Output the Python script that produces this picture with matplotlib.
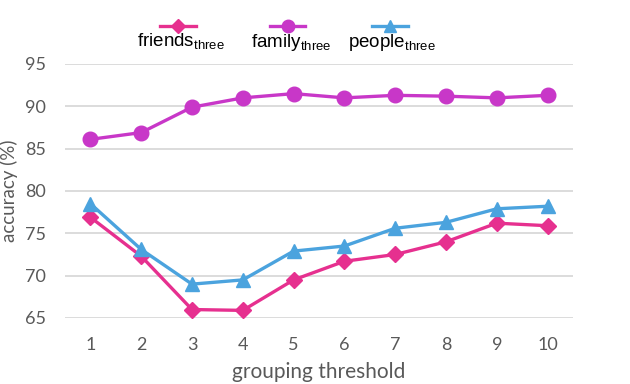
import matplotlib
matplotlib.use('Agg')
import matplotlib.pyplot as plt
from matplotlib.lines import Line2D
import numpy as np

# data
thresholds = [1, 2, 3, 4, 5, 6, 7, 8, 9, 10]
friends = [76.9, 72.3, 66.0, 65.9, 69.5, 71.7, 72.5, 74.0, 76.2, 75.9]
family = [86.1, 86.9, 89.9, 91.0, 91.5, 91.0, 91.3, 91.2, 91.0, 91.3]
people = [78.5, 73.1, 69.0, 69.5, 72.9, 73.5, 75.6, 76.3, 77.9, 78.2]
yticks = [65, 70, 75, 80, 85, 90, 95]

c_friends = '#E6308F'
c_family = '#C837C8'
c_people = '#4BA3DE'

plt.rcParams['font.family'] = ['Lato', 'DejaVu Sans']
plt.rcParams['mathtext.fontset'] = 'custom'
plt.rcParams['mathtext.rm'] = 'Liberation Sans'

fig = plt.figure(figsize=(6.3, 3.84), dpi=100)
ax = fig.add_axes([65/630, 1-318/384, 508/630, 254/384])

x = np.arange(len(thresholds))
ax.plot(x, friends, color=c_friends, lw=2.4, marker='D', ms=8, clip_on=False, zorder=3)
ax.plot(x, family, color=c_family, lw=2.4, marker='o', ms=10.5, clip_on=False, zorder=3)
ax.plot(x, people, color=c_people, lw=2.4, marker='^', ms=10, clip_on=False, zorder=3)

ax.set_xlim(-0.5, len(thresholds)-0.5)
ax.set_ylim(65, 95)
ax.set_yticks(yticks)
ax.set_xticks(x)
ax.set_xticklabels([str(t) for t in thresholds])
ax.grid(axis='y', color='#D9D9D9', lw=1.3)
ax.set_axisbelow(True)
for s in ax.spines.values():
    s.set_visible(False)
ax.tick_params(length=0, labelsize=13, labelcolor='#595959')
ax.tick_params(axis='y', pad=14)
ax.tick_params(axis='x', pad=14)
ax.set_ylabel('accuracy (%)', fontsize=13.5, color='#595959', labelpad=5)
ax.set_xlabel('grouping threshold', fontsize=15, color='#595959', labelpad=6)

# legend: marker line above the label
W, H = 630, 384
legend = [('friends', c_friends, 'D', 7, 160, 196, 137),
          ('family', c_family, 'o', 9, 270, 305, 251),
          ('people', c_people, '^', 8, 372, 408, 348)]
for name, col, mk, ms, x0, x1, tx in legend:
    fig.add_artist(Line2D([x0/W, x1/W], [1-26/H, 1-26/H], color=col, lw=2.4,
                          transform=fig.transFigure))
    fig.add_artist(Line2D([(x0+x1)/2/W], [1-26/H], color=col, marker=mk, ms=ms,
                          transform=fig.transFigure))
    fig.text(tx/W, 1-47/H, name + r'$_{\mathregular{three}}$', fontsize=13.5,
             family='Liberation Sans', color='black', va='baseline', ha='left')

fig.savefig('out.png', dpi=100)
